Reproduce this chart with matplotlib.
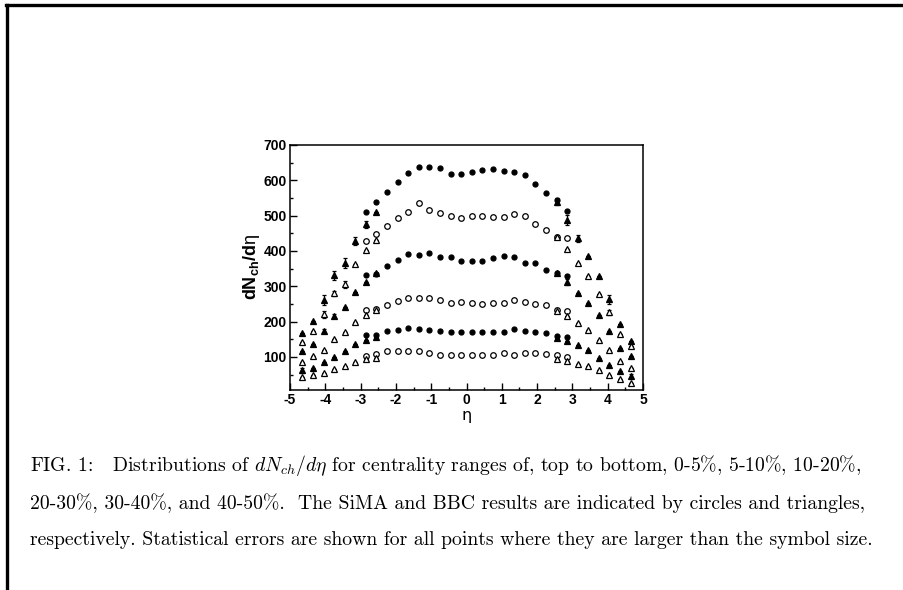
import matplotlib
matplotlib.use("Agg")
import matplotlib.pyplot as plt
from matplotlib.lines import Line2D
from matplotlib.ticker import MultipleLocator

plt.rcParams['axes.unicode_minus'] = False
plt.rcParams['mathtext.fontset'] = 'custom'
plt.rcParams['mathtext.rm'] = 'Liberation Sans:bold'
plt.rcParams['mathtext.bf'] = 'Liberation Sans:bold'
plt.rcParams['mathtext.it'] = 'Liberation Sans'

# ---- data ----
eta_sima = [-2.85, -2.55, -2.25, -1.95, -1.65, -1.35, -1.05, -0.75, -0.45, -0.15,
            0.15, 0.45, 0.75, 1.05, 1.35, 1.65, 1.95, 2.25, 2.55, 2.85]
eta_bbc = [-4.65, -4.35, -4.05, -3.75, -3.45, -3.15, -2.85, -2.55,
           2.55, 2.85, 3.15, 3.45, 3.75, 4.05, 4.35, 4.65]

centralities = ["0-5%", "5-10%", "10-20%", "20-30%", "30-40%", "40-50%"]

sima_0_5 = [511, 539, 568, 594, 620, 639, 637, 634, 617, 617,
            624, 629, 632, 625, 623, 615, 591, 565, 544, 514]
sima_5_10 = [428, 447, 471, 492, 511, 535, 516, 508, 499, 494,
             499, 499, 495, 496, 504, 499, 476, 459, 440, 436]
sima_10_20 = [331, 336, 357, 374, 391, 388, 393, 383, 383, 371,
              371, 371, 379, 385, 382, 367, 365, 346, 338, 330]
sima_20_30 = [232, 237, 248, 259, 267, 267, 266, 262, 254, 256,
              253, 251, 254, 254, 260, 256, 251, 247, 232, 230]
sima_30_40 = [161, 161, 173, 177, 181, 178, 177, 173, 171, 171,
              171, 171, 171, 171, 178, 173, 171, 168, 159, 158]
sima_40_50 = [103, 108, 116, 117, 117, 117, 111, 107, 107, 107,
              105, 105, 107, 112, 107, 111, 112, 108, 107, 100]

bbc_0_5 = [168, 201, 261, 331, 365, 428, 476, 511, 540, 487, 436, 385, 329, 263, 192, 144]
bbc_5_10 = [142, 174, 221, 280, 306, 363, 402, 431, 440, 407, 365, 329, 277, 226, 164, 130]
bbc_10_20 = [117, 138, 173, 216, 242, 284, 313, 337, 338, 313, 282, 253, 218, 173, 126, 102]
bbc_20_30 = [86, 103, 121, 152, 171, 199, 218, 232, 230, 215, 197, 177, 149, 119, 90, 70]
bbc_30_40 = [62, 70, 85, 100, 117, 136, 147, 157, 155, 144, 133, 119, 98, 76, 60, 46]
bbc_40_50 = [43, 48, 55, 67, 74, 86, 93, 97, 93, 89, 79, 74, 64, 48, 39, 26]

# statistical errors (only where larger than the symbol)
bbc_err_0_5 = [0, 0, 15, 12, 14, 12, 10, 0, 10, 14, 10, 0, 0, 12, 0, 0]
bbc_err_5_10 = [0, 0, 10, 8, 10, 0, 0, 0, 0, 0, 0, 0, 0, 8, 0, 0]
bbc_err_10_20 = [0, 0, 6, 6, 0, 0, 0, 0, 0, 8, 0, 0, 0, 0, 0, 0]
bbc_err_20_30 = [0] * 16
bbc_err_30_40 = [6, 0, 0, 0, 0, 0, 0, 0, 0, 0, 0, 0, 0, 0, 0, 6]
bbc_err_40_50 = [0] * 16

sima_rows = [sima_0_5, sima_5_10, sima_10_20, sima_20_30, sima_30_40, sima_40_50]
bbc_rows = [bbc_0_5, bbc_5_10, bbc_10_20, bbc_20_30, bbc_30_40, bbc_40_50]
bbc_errs = [bbc_err_0_5, bbc_err_5_10, bbc_err_10_20, bbc_err_20_30, bbc_err_30_40, bbc_err_40_50]

caption = [
    r"FIG. 1:   Distributions of $dN_{ch}/d\eta$ for centrality ranges of, top to bottom, 0-5%, 5-10%, 10-20%,",
    "20-30%, 30-40%, and 40-50%.  The SiMA and BBC results are indicated by circles and triangles,",
    "respectively. Statistical errors are shown for all points where they are larger than the symbol size.",
]

# ---- figure ----
fig = plt.figure(figsize=(9.04, 5.90), dpi=100)
ax = fig.add_axes([290 / 904, 1 - 389.5 / 590, 353 / 904, 244.5 / 590])

for i, (s, b, e) in enumerate(zip(sima_rows, bbc_rows, bbc_errs)):
    filled = (i % 2 == 0)
    fc = "black" if filled else "white"
    ax.plot(eta_sima, s, linestyle="none", marker="o", ms=3.6 if filled else 4.0,
            mfc=fc, mec="black", mew=0.9, zorder=3)
    ax.errorbar(eta_bbc, b, yerr=e, fmt="^", ms=4.2, mfc=fc, mec="black",
                mew=0.9, ecolor="black", elinewidth=0.9, capsize=1.5,
                capthick=0.9, zorder=3)

ax.set_xlim(-5, 5)
ax.set_ylim(8, 700)
ax.xaxis.set_major_locator(MultipleLocator(1))
ax.xaxis.set_minor_locator(MultipleLocator(0.5))
ax.yaxis.set_major_locator(MultipleLocator(100))
ax.yaxis.set_minor_locator(MultipleLocator(50))
ax.tick_params(which="both", direction="in", width=1.0)
ax.tick_params(which="major", length=5)
ax.tick_params(which="minor", length=2.5)
ax.tick_params(axis="both", labelsize=10, pad=2.5)
for lab in ax.get_xticklabels() + ax.get_yticklabels():
    lab.set_family("Liberation Sans")
    lab.set_fontweight("bold")
for sp in ax.spines.values():
    sp.set_linewidth(1.1)

ax.set_xlabel(r"η", fontsize=11.5, family="DejaVu Sans", labelpad=1)
ax.set_ylabel(r"$\mathbf{dN_{ch}/d}\eta$", fontsize=13, labelpad=1)

# caption
for k, line in enumerate(caption):
    fig.text(30 / 904, 1 - (466 + 37 * k) / 590, line, ha="left", va="center",
             family="cmr10", fontsize=14.2, math_fontfamily="cm")

# page border from the scan
fig.add_artist(Line2D([6 / 904, 1], [1 - 5 / 590, 1 - 5 / 590], color="black", lw=2.4))
fig.add_artist(Line2D([7 / 904, 7 / 904], [0, 1 - 5 / 590], color="black", lw=2.4))

fig.savefig("out.png", dpi=100)
